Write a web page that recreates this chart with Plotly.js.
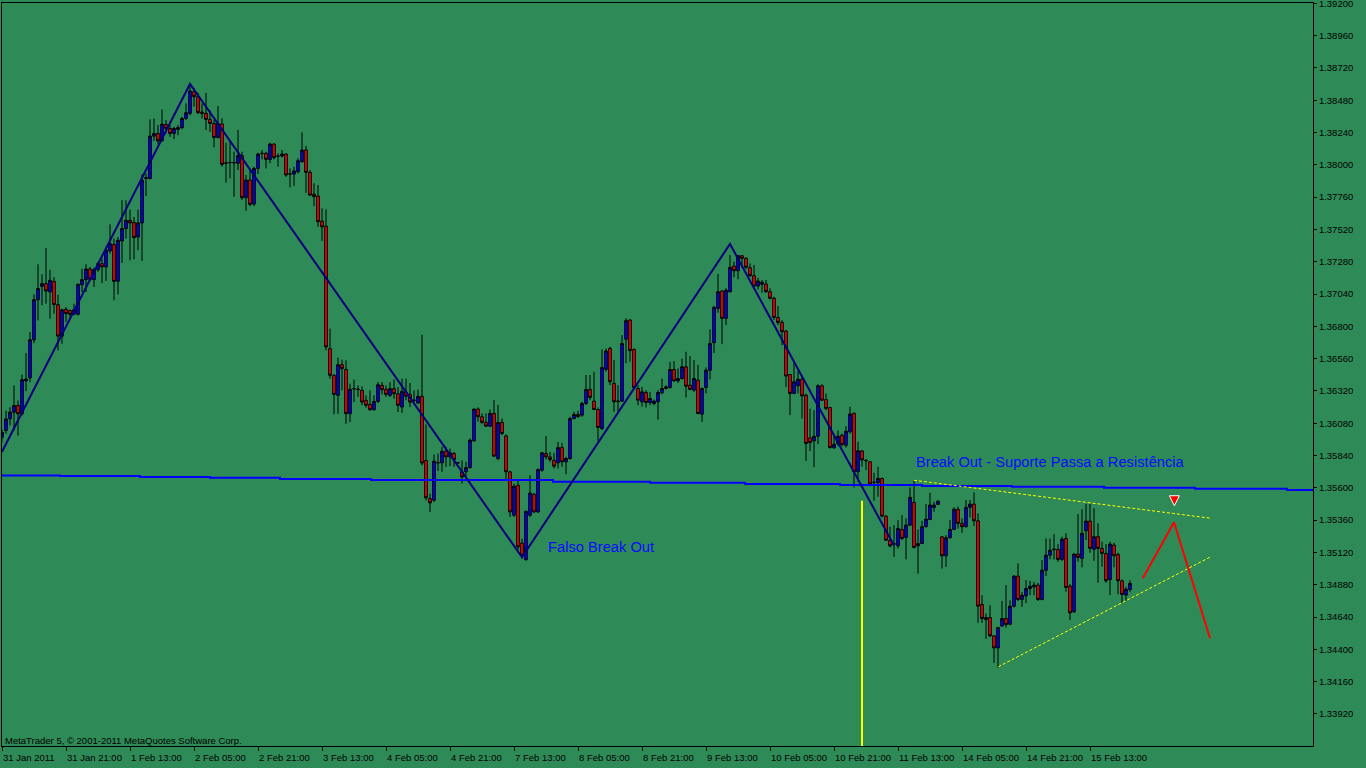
<!DOCTYPE html>
<html><head><meta charset="utf-8">
<script src="https://cdn.plot.ly/plotly-3.0.1.min.js"></script>
<style>html,body{margin:0;padding:0;background:#2E8B57;overflow:hidden}#chart{width:1366px;height:768px}</style>
</head><body><div id="chart"></div>
<script>
// EURUSD H1 candles, bar index 0..282
const openP = [
1.35976,1.36026,1.36112,1.36162,1.36212,1.36150,1.36395,1.36417,1.36700,1.36998,
1.37097,1.37117,1.37055,1.37134,1.36961,1.36727,1.36926,1.36918,1.36891,1.36889,
1.37109,1.37147,1.37226,1.37147,1.37221,1.37266,1.37241,1.37360,1.37409,1.37134,
1.37434,1.37526,1.37588,1.37571,1.37464,1.37568,1.37898,1.37898,1.38213,1.38233,
1.38178,1.38299,1.38270,1.38233,1.38263,1.38277,1.38344,1.38382,1.38543,1.38506,
1.38392,1.38382,1.38337,1.38307,1.38203,1.38303,1.38015,1.38018,1.38014,1.38011,
1.38068,1.37755,1.37887,1.37708,1.37973,1.38083,1.38085,1.38040,1.38154,1.38063,
1.38065,1.38080,1.37933,1.37931,1.37949,1.38023,1.38110,1.37944,1.37782,1.37768,
1.37582,1.37544,1.36634,1.36436,1.36287,1.36515,1.36480,1.36151,1.36335,1.36330,
1.36324,1.36250,1.36220,1.36180,1.36242,1.36361,1.36332,1.36287,1.36337,1.36299,
1.36200,1.36312,1.36294,1.36252,1.36230,1.36280,1.35803,1.35520,1.35508,1.35788,
1.35786,1.35872,1.35830,1.35855,1.35788,1.35719,1.35719,1.35751,1.35949,1.36185,
1.36128,1.36086,1.36058,1.36153,1.35818,1.36086,1.35986,1.35719,1.35396,1.35619,
1.35190,1.35066,1.35396,1.35552,1.35421,1.35731,1.35855,1.35830,1.35805,1.35786,
1.35900,1.35793,1.35818,1.36115,1.36145,1.36140,1.36227,1.36331,1.36244,1.36182,
1.36041,1.36480,1.36636,1.36376,1.36240,1.36244,1.36704,1.36847,1.36628,1.36338,
1.36239,1.36308,1.36234,1.36226,1.36239,1.36306,1.36338,1.36345,1.36479,1.36395,
1.36412,1.36499,1.36363,1.36326,1.36400,1.36147,1.36345,1.36474,1.36678,1.36933,
1.37062,1.36859,1.37057,1.37248,1.37213,1.37325,1.37305,1.37236,1.37176,1.37099,
1.37127,1.37114,1.37057,1.37008,1.36866,1.36829,1.36765,1.36442,1.36301,1.36358,
1.36407,1.36288,1.35971,1.35949,1.35983,1.36358,1.36256,1.36197,1.35897,1.35929,
1.35991,1.35916,1.36016,1.36154,1.35720,1.35874,1.35805,1.35794,1.35642,1.35638,
1.35670,1.35390,1.35211,1.35185,1.35169,1.35291,1.35231,1.35323,1.35492,1.35169,
1.35187,1.35311,1.35365,1.35454,1.35477,1.35236,1.35095,1.35229,1.35291,1.35440,
1.35336,1.35311,1.35455,1.35479,1.35355,1.34733,1.34621,1.34636,1.34500,1.34411,
1.34574,1.34629,1.34587,1.34721,1.34944,1.34770,1.34797,1.34852,1.34864,1.34877,
1.34770,1.34988,1.35100,1.35140,1.35142,1.35068,1.35224,1.34870,1.34679,1.35108,
1.35076,1.35281,1.35353,1.35143,1.35237,1.35150,1.35113,1.34919,1.35175,1.35105,
1.34909,1.34803,1.34845];
const highP = [
1.36031,1.36174,1.36199,1.36360,1.36249,1.36442,1.36601,1.36757,1.37037,1.37261,
1.37186,1.37382,1.37221,1.37166,1.37035,1.36931,1.36943,1.36923,1.36968,1.37117,
1.37228,1.37261,1.37241,1.37236,1.37278,1.37303,1.37390,1.37558,1.37452,1.37464,
1.37737,1.37737,1.37667,1.37613,1.37667,1.37930,1.37935,1.38337,1.38344,1.38295,
1.38411,1.38332,1.38295,1.38282,1.38295,1.38357,1.38456,1.38600,1.38568,1.38535,
1.38456,1.38535,1.38406,1.38332,1.38436,1.38345,1.38164,1.38172,1.38097,1.38259,
1.38097,1.37924,1.37966,1.37986,1.38090,1.38110,1.38097,1.38164,1.38159,1.38085,
1.38110,1.38085,1.37973,1.37986,1.38048,1.38241,1.38140,1.37961,1.37862,1.37849,
1.37676,1.37668,1.36783,1.36443,1.36567,1.36552,1.36547,1.36374,1.36404,1.36361,
1.36354,1.36287,1.36324,1.36287,1.36386,1.36386,1.36361,1.36386,1.36404,1.36349,
1.36411,1.36411,1.36379,1.36324,1.36330,1.36738,1.36071,1.35557,1.35848,1.35855,
1.35905,1.35905,1.35892,1.35867,1.35793,1.35805,1.35793,1.35967,1.36190,1.36197,
1.36153,1.36153,1.36182,1.36252,1.36215,1.36115,1.35996,1.35726,1.35632,1.35662,
1.35223,1.35430,1.35694,1.35562,1.35743,1.35867,1.35984,1.35867,1.35860,1.35942,
1.35934,1.35830,1.36128,1.36165,1.36172,1.36239,1.36438,1.36438,1.36463,1.36197,
1.36629,1.36636,1.36649,1.36549,1.36363,1.36735,1.36860,1.36852,1.36636,1.36363,
1.36350,1.36326,1.36313,1.36256,1.36326,1.36412,1.36363,1.36536,1.36541,1.36487,
1.36561,1.36611,1.36579,1.36549,1.36512,1.36345,1.36494,1.36777,1.36951,1.37189,
1.37069,1.37082,1.37330,1.37280,1.37330,1.37330,1.37313,1.37268,1.37256,1.37161,
1.37144,1.37144,1.37082,1.37020,1.36951,1.36846,1.36772,1.36445,1.36529,1.36467,
1.36437,1.36301,1.36189,1.36177,1.36370,1.36370,1.36301,1.36202,1.35998,1.36028,
1.36003,1.36058,1.36203,1.36159,1.35943,1.35881,1.35812,1.35796,1.35712,1.35757,
1.35675,1.35397,1.35311,1.35323,1.35360,1.35397,1.35373,1.35603,1.35653,1.35291,
1.35355,1.35479,1.35564,1.35497,1.35504,1.35241,1.35249,1.35360,1.35454,1.35460,
1.35373,1.35509,1.35509,1.35566,1.35410,1.34802,1.34666,1.34728,1.34505,1.34567,
1.34760,1.34877,1.34765,1.34951,1.35038,1.34827,1.34914,1.34909,1.34902,1.34894,
1.35063,1.35224,1.35224,1.35256,1.35182,1.35237,1.35262,1.34885,1.35113,1.35405,
1.35440,1.35480,1.35480,1.35448,1.35336,1.35200,1.35182,1.35200,1.35192,1.35118,
1.34919,1.34865,1.34914];
const lowP = [
1.35939,1.36001,1.36063,1.36026,1.35988,1.36137,1.36318,1.36385,1.36675,1.36844,
1.36956,1.36968,1.36856,1.36894,1.36621,1.36670,1.36832,1.36856,1.36881,1.36881,
1.37055,1.37055,1.37137,1.37092,1.37204,1.37122,1.37137,1.37340,1.36993,1.37037,
1.37271,1.37452,1.37290,1.37298,1.37365,1.37285,1.37767,1.37891,1.38178,1.38153,
1.38171,1.38233,1.38208,1.38191,1.38220,1.38263,1.38332,1.38369,1.38431,1.38377,
1.38344,1.38258,1.38245,1.38129,1.38196,1.37986,1.37867,1.37899,1.37763,1.37961,
1.37738,1.37658,1.37693,1.37693,1.37931,1.38040,1.37973,1.38011,1.38040,1.37986,
1.38055,1.37911,1.37832,1.37842,1.37936,1.38016,1.37792,1.37768,1.37693,1.37539,
1.37435,1.36622,1.36411,1.36146,1.36151,1.36324,1.36076,1.36089,1.36237,1.36275,
1.36213,1.36195,1.36175,1.36175,1.36230,1.36294,1.36275,1.36275,1.36262,1.36163,
1.36156,1.36250,1.36200,1.36225,1.36225,1.35766,1.35506,1.35421,1.35495,1.35726,
1.35719,1.35756,1.35761,1.35756,1.35780,1.35632,1.35681,1.35743,1.35942,1.36091,
1.36073,1.36053,1.36053,1.35830,1.35805,1.35991,1.35657,1.35384,1.35384,1.35136,
1.35074,1.35061,1.35384,1.35414,1.35414,1.35719,1.35810,1.35793,1.35743,1.35743,
1.35756,1.35701,1.35810,1.36108,1.36123,1.36128,1.36215,1.36252,1.36177,1.35949,
1.36029,1.36463,1.36363,1.36165,1.36165,1.36239,1.36525,1.36537,1.36338,1.36214,
1.36202,1.36197,1.36214,1.36214,1.36107,1.36296,1.36331,1.36338,1.36388,1.36380,
1.36405,1.36271,1.36326,1.36313,1.36147,1.36090,1.36301,1.36405,1.36603,1.36901,
1.36668,1.36809,1.37050,1.37164,1.37149,1.37238,1.37223,1.37169,1.37089,1.37075,
1.37050,1.37050,1.37000,1.36846,1.36809,1.36660,1.36350,1.36140,1.36296,1.36301,
1.36115,1.35800,1.35874,1.35755,1.35924,1.36246,1.36177,1.35892,1.35892,1.35909,
1.35909,1.35899,1.36003,1.35603,1.35645,1.35757,1.35732,1.35621,1.35504,1.35534,
1.35380,1.35206,1.35157,1.35087,1.35149,1.35211,1.35068,1.35316,1.35149,1.34963,
1.35182,1.35306,1.35360,1.35422,1.35475,1.35001,1.35013,1.35224,1.35286,1.35298,
1.35266,1.35306,1.35380,1.35316,1.34597,1.34597,1.34478,1.34492,1.34299,1.34264,
1.34567,1.34562,1.34579,1.34711,1.34760,1.34716,1.34745,1.34802,1.34802,1.34760,
1.34765,1.34944,1.35068,1.35068,1.35050,1.35058,1.34828,1.34617,1.34671,1.35051,
1.35009,1.35212,1.35118,1.35058,1.34895,1.35014,1.34895,1.34803,1.35009,1.34810,
1.34746,1.34761,1.34828];
const closeP = [
1.36013,1.36112,1.36162,1.36212,1.36150,1.36403,1.36408,1.36700,1.36998,1.37080,
1.37117,1.37062,1.37142,1.36961,1.36727,1.36923,1.36894,1.36889,1.36923,1.37112,
1.37147,1.37226,1.37149,1.37221,1.37266,1.37241,1.37365,1.37414,1.37134,1.37439,
1.37526,1.37588,1.37568,1.37459,1.37568,1.37886,1.37905,1.38213,1.38233,1.38178,
1.38302,1.38270,1.38233,1.38270,1.38277,1.38344,1.38387,1.38548,1.38506,1.38387,
1.38382,1.38337,1.38307,1.38203,1.38307,1.38003,1.38011,1.38016,1.38016,1.38068,
1.37755,1.37887,1.37706,1.37973,1.38080,1.38085,1.38040,1.38154,1.38053,1.38065,
1.38080,1.37924,1.37931,1.37954,1.38030,1.38110,1.37944,1.37775,1.37763,1.37577,
1.37539,1.36647,1.36436,1.36294,1.36515,1.36485,1.36151,1.36332,1.36337,1.36332,
1.36237,1.36213,1.36180,1.36242,1.36366,1.36329,1.36294,1.36337,1.36299,1.36213,
1.36317,1.36280,1.36237,1.36250,1.36280,1.35784,1.35526,1.35488,1.35798,1.35786,
1.35872,1.35830,1.35860,1.35810,1.35786,1.35681,1.35751,1.35954,1.36185,1.36128,
1.36086,1.36058,1.36153,1.35835,1.36086,1.36004,1.35719,1.35421,1.35612,1.35161,
1.35099,1.35426,1.35562,1.35421,1.35736,1.35860,1.35830,1.35810,1.35761,1.35900,
1.35793,1.35818,1.36115,1.36145,1.36128,1.36227,1.36331,1.36272,1.36182,1.36048,
1.36495,1.36616,1.36388,1.36239,1.36244,1.36673,1.36842,1.36619,1.36345,1.36251,
1.36313,1.36234,1.36264,1.36244,1.36308,1.36338,1.36350,1.36479,1.36395,1.36412,
1.36499,1.36355,1.36331,1.36412,1.36152,1.36338,1.36474,1.36673,1.36941,1.37057,
1.36859,1.37069,1.37238,1.37213,1.37325,1.37305,1.37238,1.37176,1.37099,1.37137,
1.37112,1.37057,1.37008,1.36866,1.36829,1.36760,1.36430,1.36301,1.36388,1.36407,
1.36283,1.35929,1.35936,1.35983,1.36358,1.36251,1.36189,1.35899,1.35924,1.35983,
1.35921,1.36021,1.36149,1.35720,1.35876,1.35807,1.35802,1.35628,1.35640,1.35670,
1.35390,1.35211,1.35169,1.35182,1.35298,1.35224,1.35323,1.35529,1.35157,1.35187,
1.35311,1.35368,1.35472,1.35472,1.35502,1.35095,1.35229,1.35291,1.35442,1.35336,
1.35311,1.35455,1.35479,1.35355,1.34721,1.34629,1.34636,1.34500,1.34411,1.34562,
1.34629,1.34584,1.34721,1.34944,1.34770,1.34802,1.34852,1.34869,1.34877,1.34770,
1.34988,1.35100,1.35137,1.35144,1.35068,1.35219,1.34860,1.34671,1.35108,1.35083,
1.35262,1.35353,1.35150,1.35237,1.35150,1.35113,1.34909,1.35182,1.35095,1.34909,
1.34808,1.34847,1.34890];

const tickBars = [0,16,32,48,64,80,96,112,128,144,160,176,192,208,224,240,256,272];
const tickLabels = ["31 Jan 2011","31 Jan 21:00","1 Feb 13:00","2 Feb 05:00","2 Feb 21:00","3 Feb 13:00",
  "4 Feb 05:00","4 Feb 21:00","7 Feb 13:00","8 Feb 05:00","8 Feb 21:00","9 Feb 13:00","10 Feb 05:00",
  "10 Feb 21:00","11 Feb 13:00","14 Feb 05:00","14 Feb 21:00","15 Feb 13:00"];
const priceTicks = [1.39200,1.38960,1.38720,1.38480,1.38240,1.38000,1.37760,1.37520,1.37280,1.37040,
  1.36800,1.36560,1.36320,1.36080,1.35840,1.35600,1.35360,1.35120,1.34880,1.34640,1.34400,1.34160,1.33920];

// ZigZag
const zigBar = [0,47,130,182,223];
const zigPrice = [1.35868,1.38600,1.35084,1.37412,1.35171];
// long moving average (stepped)
const maBar = [0,14.5,34.5,52,69.5,92.25,137.75,162,185.75,209.5,230,252.5,275.5,298.25,321.25,327.75];
const maPrice = [1.35692,1.35688,1.35680,1.35675,1.35666,1.35658,1.35645,1.35638,1.35628,1.35621,1.35614,1.35608,1.35601,1.35594,1.35584,1.35584];
// vertical yellow line
const vBar = [215,215];
const vPrice = [1.35504,1.33682];
// triangle (yellow dashed)
const upBar = [228,302.2], upPrice = [1.35656,1.35374];
const loBar = [249.1,302.2], loPrice = [1.34271,1.35088];
// red projection
const redBar = [285.2,293,302], redPrice = [1.34928,1.35344,1.34482];
const arrowBar = [293.1], arrowPrice = [1.35467];

const bars = openP.map((_, i) => i);
const yMin = 1.33682, yMax = 1.39202;

const traces = [
  {type:'scatter', mode:'lines', x:maBar, y:maPrice, line:{color:'#0000FF', width:2, shape:'hv'}, hoverinfo:'skip'},
  {type:'candlestick', x:bars, open:openP, high:highP, low:lowP, close:closeP,
   increasing:{line:{color:'#000000', width:1}, fillcolor:'#0000FF'},
   decreasing:{line:{color:'#000000', width:1}, fillcolor:'#FF0000'},
   whiskerwidth:0, hoverinfo:'skip'},
  {type:'scatter', mode:'lines', x:zigBar, y:zigPrice, line:{color:'#00007A', width:2}, hoverinfo:'skip'},
  {type:'scatter', mode:'lines', x:vBar, y:vPrice, line:{color:'#FFFF00', width:2}, hoverinfo:'skip'},
  {type:'scatter', mode:'lines', x:upBar, y:upPrice, line:{color:'#FFFF00', width:1, dash:'3px,2px'}, hoverinfo:'skip'},
  {type:'scatter', mode:'lines', x:loBar, y:loPrice, line:{color:'#FFFF00', width:1, dash:'3px,2px'}, hoverinfo:'skip'},
  {type:'scatter', mode:'lines', x:redBar, y:redPrice, line:{color:'#FF0000', width:2}, hoverinfo:'skip'},
  {type:'scatter', mode:'markers', x:arrowBar, y:arrowPrice, marker:{symbol:'arrow-down', size:10, color:'#FF0000', line:{color:'#FFFFFF', width:1}}, hoverinfo:'skip'}
];

const smallFont = {family:'Liberation Sans, Arial, sans-serif', size:9.5, color:'#000000'};
const layout = {
  width:1366, height:768,
  margin:{l:2, r:53, t:3, b:22, pad:0},
  paper_bgcolor:'#2E8B57', plot_bgcolor:'#2E8B57',
  showlegend:false, boxgap:0.05,
  xaxis:{range:[0,327.75], tickmode:'array', tickvals:tickBars, ticktext:tickLabels,
    ticks:'outside', ticklen:4, tickcolor:'#000', tickwidth:1, tickangle:0, ticklabelstandoff:3,
    ticklabelposition:'outside right', ticklabeloverflow:'allow', tickfont:smallFont,
    showline:true, linecolor:'#000', linewidth:1, mirror:true,
    showgrid:false, zeroline:false, rangeslider:{visible:false}, fixedrange:true},
  yaxis:{side:'right', range:[yMin,yMax], tickmode:'array', tickvals:priceTicks,
    ticktext:priceTicks.map(v => v.toFixed(5)), ticklabeloverflow:'allow',
    ticks:'outside', ticklen:3, tickcolor:'#000', tickwidth:1, tickfont:smallFont,
    showline:true, linecolor:'#000', linewidth:1, mirror:true,
    showgrid:false, zeroline:false, fixedrange:true},
  annotations:[
    {x:136, y:1.35160, xref:'x', yref:'y', xanchor:'left', yanchor:'middle', showarrow:false,
     text:'Falso Break Out', font:{family:'Liberation Sans, Arial, sans-serif', size:14.7, color:'#0A0AFF'}},
    {x:228, y:1.35792, xref:'x', yref:'y', xanchor:'left', yanchor:'middle', showarrow:false,
     text:'Break Out - Suporte Passa a Resistência', font:{family:'Liberation Sans, Arial, sans-serif', size:14.7, color:'#0A0AFF'}},
    {x:0.001, y:0.008, xref:'paper', yref:'paper', xanchor:'left', yanchor:'middle', showarrow:false,
     text:'MetaTrader 5, © 2001-2011 MetaQuotes Software Corp.', font:smallFont}
  ]
};
Plotly.newPlot('chart', traces, layout, {displayModeBar:false, staticPlot:true});
</script>
</body></html>
